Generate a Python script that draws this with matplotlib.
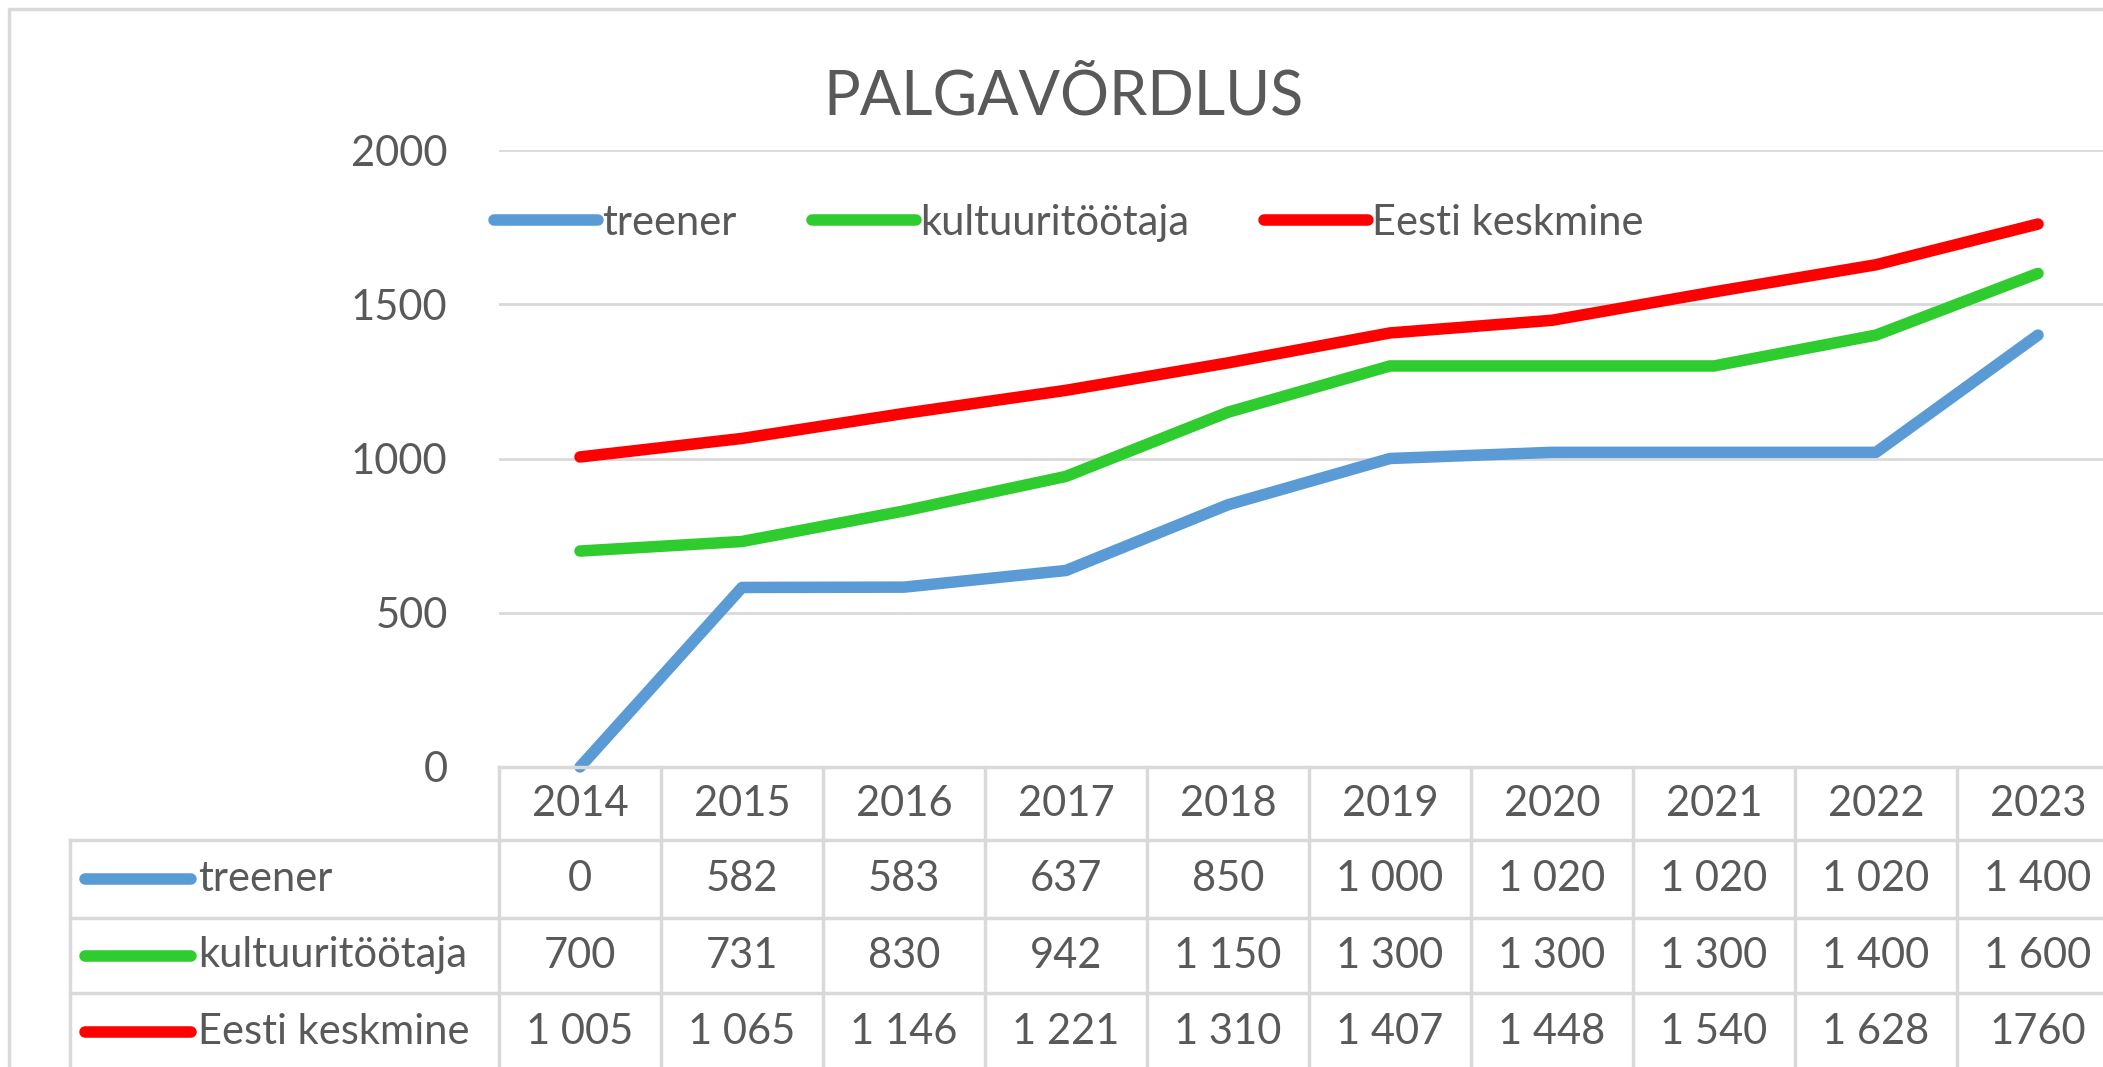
import matplotlib
matplotlib.use('Agg')
import matplotlib.pyplot as plt

plt.rcParams['font.family'] = ['Lato', 'DejaVu Sans']

years = ['2014', '2015', '2016', '2017', '2018', '2019', '2020', '2021', '2022', '2023']
treener = [0, 582, 583, 637, 850, 1000, 1020, 1020, 1020, 1400]
kultuur = [700, 731, 830, 942, 1150, 1300, 1300, 1300, 1400, 1600]
eesti = [1005, 1065, 1146, 1221, 1310, 1407, 1448, 1540, 1628, 1760]
names = ['treener', 'kultuuritöötaja', 'Eesti keskmine']
colors = ['#5b9bd5', '#2ecc2e', '#ff0000']
# the last cell of the table was typed without a thousands space
plain_cells = {(2, 9)}

W, H = 2103, 1067
TXT = '#595959'
GRID = '#d9d9d9'


def fmt(v, plain=False):
    s = str(v)
    if plain or v < 1000:
        return s
    return s[:-3] + ' ' + s[-3:]


fig = plt.figure(figsize=(W / 100, H / 100), dpi=100)

# plot area in pixel units of the figure
left, right, top, bottom = 499, 2119, 150, 767
ax = fig.add_axes([left / W, 1 - bottom / H, (right - left) / W, (bottom - top) / H])
series = [treener, kultuur, eesti]
x = list(range(len(years)))
for vals, c, n in zip(series, colors, names):
    ax.plot(x, vals, color=c, lw=8.3, label=n, solid_joinstyle='round',
            solid_capstyle='round', clip_on=False, zorder=3)
ax.set_xlim(-0.5, len(years) - 0.5)
ax.set_ylim(0, 2000)
ax.set_yticks([0, 500, 1000, 1500, 2000])
ax.yaxis.grid(True, color=GRID, lw=2)
ax.set_axisbelow(True)
ax.tick_params(axis='y', length=0, pad=37, labelsize=30, labelcolor=TXT)
ax.tick_params(axis='x', length=0, labelbottom=False)
for s in ax.spines.values():
    s.set_visible(False)

leg = ax.legend(loc='center', bbox_to_anchor=(1069 / W, 1 - 223 / H),
                bbox_transform=fig.transFigure, ncol=3, frameon=False,
                fontsize=30, handlelength=2.5, handletextpad=0.1,
                columnspacing=1.8)
for t in leg.get_texts():
    t.set_color(TXT)
for h in leg.get_lines():
    h.set_linewidth(8.3)
    h.set_solid_capstyle('round')

fig.text(1063 / W, 1 - 97 / H, 'PALGAVÕRDLUS', ha='center', va='center',
         fontsize=44, color=TXT)

# data table under the chart, drawn on an overlay in pixel coordinates
tab = fig.add_axes([0, 0, 1, 1])
tab.set_xlim(0, W)
tab.set_ylim(H, 0)
tab.axis('off')

edges = [ax.transData.transform((i - 0.5, 0))[0] for i in range(len(years) + 1)]
centers = [ax.transData.transform((i, 0))[0] for i in range(len(years))]
rows = [767, 840, 918, 993, 1070]
tab_left = 70
lw_t = 2.5

tab.plot([edges[0], W + 20], [rows[0], rows[0]], color=GRID, lw=lw_t)
for yy in rows[1:]:
    tab.plot([tab_left, W + 20], [yy, yy], color=GRID, lw=lw_t)
for xx in edges:
    tab.plot([xx, xx], [rows[0], H + 10], color=GRID, lw=lw_t)
tab.plot([tab_left, tab_left], [rows[1], H + 10], color=GRID, lw=lw_t)

for cx, yr in zip(centers, years):
    tab.text(cx, (rows[0] + rows[1]) / 2, yr, ha='center', va='center',
             fontsize=30, color=TXT)
for r, (vals, c, n) in enumerate(zip(series, colors, names)):
    cy = (rows[r + 1] + rows[r + 2]) / 2
    tab.plot([85, 191], [cy, cy], color=c, lw=8.3, solid_capstyle='round')
    tab.text(198, cy, n, ha='left', va='center', fontsize=30, color=TXT)
    for j, (cx, v) in enumerate(zip(centers, vals)):
        tab.text(cx, cy, fmt(v, (r, j) in plain_cells), ha='center',
                 va='center', fontsize=30, color=TXT)

# outer chart frame
tab.plot([9, 9, W + 20], [H + 10, 9, 9], color=GRID, lw=2.5)

fig.savefig('out.png', dpi=100)
